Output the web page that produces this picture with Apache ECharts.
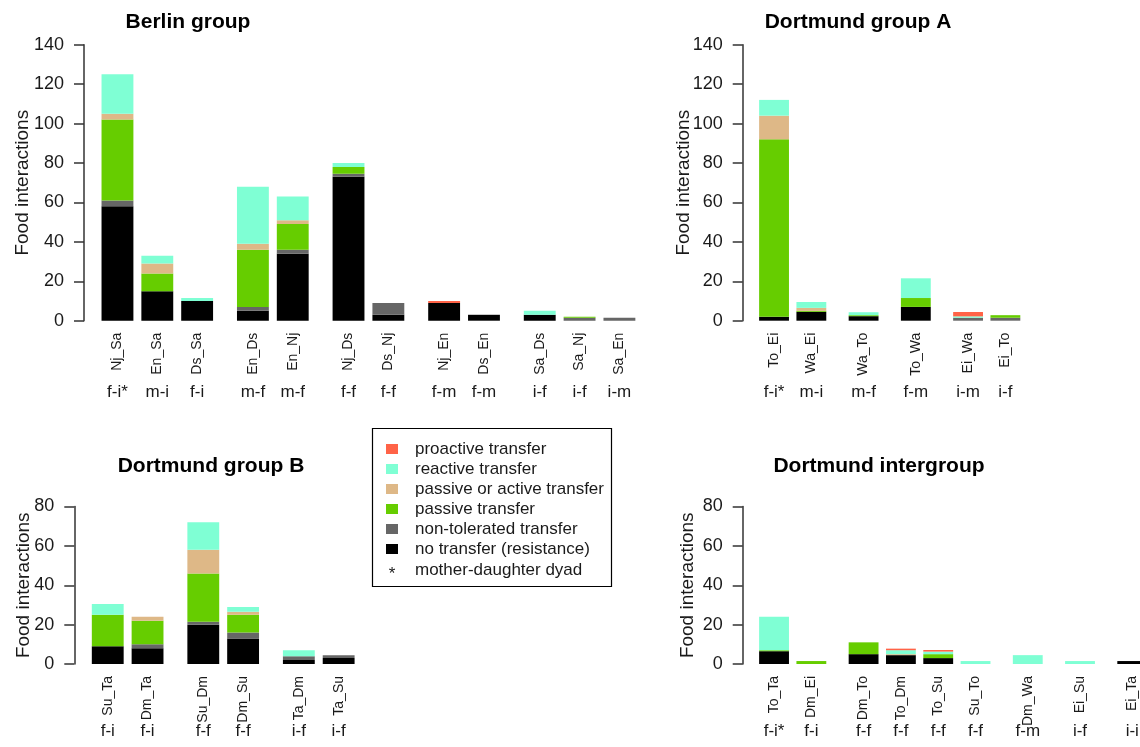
<!DOCTYPE html>
<html>
<head>
<meta charset="utf-8">
<script src="https://cdn.jsdelivr.net/npm/echarts@6/dist/echarts.min.js"></script>
<style>
  html, body { margin: 0; padding: 0; background: #fff; }
  #chart { width: 1140px; height: 747px; }
</style>
</head>
<body>
<div id="chart"></div>
<script>
// stack layers, bottom to top
var layers = ["no transfer (resistance)", "non-tolerated transfer", "passive transfer",
  "passive or active transfer", "reactive transfer", "proactive transfer"];
var layerColors = ["#000000", "#666666", "#66CD00", "#DEB887", "#7FFFD4", "#FF6347"];

// Berlin group
var berlinPairs = ["Nj_Sa", "En_Sa", "Ds_Sa", "En_Ds", "En_Nj", "Nj_Ds", "Ds_Nj", "Nj_En", "Ds_En", "Sa_Ds", "Sa_Nj", "Sa_En"];
var berlinClass = ["f-i*", "m-i", "f-i", "m-f", "m-f", "f-f", "f-f", "f-m", "f-m", "i-f", "i-f", "i-m"];
var berlinGroup = [0, 0, 0, 1, 1, 2, 2, 3, 3, 4, 4, 4];
var berlinNone      = [58, 15, 10, 5, 34, 73, 3, 9, 3, 3, 0, 0];
var berlinNonTol    = [3, 0, 0, 2, 2, 1.5, 6, 0, 0, 0, 1.5, 1.5];
var berlinPassive   = [41, 9, 0, 29, 13, 3.5, 0, 0, 0, 0, 0.5, 0];
var berlinPassAct   = [3, 5, 0, 3, 2, 0, 0, 0, 0, 0, 0, 0];
var berlinReactive  = [20, 4, 1.5, 29, 12, 2, 0, 0, 0, 2, 0, 0];
var berlinProactive = [0, 0, 0, 0, 0, 0, 0, 1, 0, 0, 0, 0];

// Dortmund group A
var dortAPairs = ["To_Ei", "Wa_Ei", "Wa_To", "To_Wa", "Ei_Wa", "Ei_To"];
var dortAClass = ["f-i*", "m-i", "m-f", "f-m", "i-m", "i-f"];
var dortAGroup = [0, 0, 1, 2, 3, 3];
var dortANone      = [2, 4.5, 2.3, 7, 0, 0];
var dortANonTol    = [0, 0, 0, 0, 1.5, 1.5];
var dortAPassive   = [90, 0.5, 0.5, 4.5, 0, 1.3];
var dortAPassAct   = [12, 1.5, 0, 0, 0, 0];
var dortAReactive  = [8, 3, 1.5, 10, 0.7, 0];
var dortAProactive = [0, 0, 0, 0, 2.2, 0];

// Dortmund group B
var dortBPairs = ["Su_Ta", "Dm_Ta", "Su_Dm", "Dm_Su", "Ta_Dm", "Ta_Su"];
var dortBClass = ["f-i", "f-i", "f-f", "f-f", "i-f", "i-f"];
var dortBGroup = [0, 0, 1, 1, 2, 2];
var dortBNone      = [9, 8, 20, 13, 2, 3];
var dortBNonTol    = [0, 2, 1.5, 3, 2, 1.5];
var dortBPassive   = [16, 12, 24.5, 9, 0, 0];
var dortBPassAct   = [0, 2, 12, 1.5, 0, 0];
var dortBReactive  = [5.5, 0, 14, 2.5, 3, 0];
var dortBProactive = [0, 0, 0, 0, 0, 0];

// Dortmund intergroup
var interPairs = ["To_Ta", "Dm_Ei", "Dm_To", "To_Dm", "To_Su", "Su_To", "Dm_Wa", "Ei_Su", "Ei_Ta"];
var interClass = ["f-i*", "f-i", "f-f", "f-f", "f-f", "f-f", "f-m", "i-f", "i-i"];
var interGroup = [0, 0, 1, 1, 1, 1, 2, 3, 4];
var interNone      = [6.5, 0, 5, 4.5, 3, 0, 0, 0, 1.5];
var interNonTol    = [0, 0, 0, 0, 0, 0, 0, 0, 0];
var interPassive   = [0.5, 1.5, 6, 0, 2, 0, 0, 0, 0];
var interPassAct   = [0, 0, 0, 0.5, 0, 0, 0, 0, 0];
var interReactive  = [17, 0, 0, 2, 1.3, 1.5, 4.5, 1.5, 0];
var interProactive = [0, 0, 0, 0.8, 0.8, 0, 0, 0, 0];

var yTicks140 = [0, 20, 40, 60, 80, 100, 120, 140];
var yTicks80 = [0, 20, 40, 60, 80];

var FONT = "'Liberation Sans', Arial, sans-serif";
var INK = "#1a1a1a";
var STEPS = 20; // category slots per bar width

// panel layout (pixels)
var panels = [
  { title: "Berlin group", tx: 188, ty: 22, pairs: berlinPairs, cls: berlinClass, grp: berlinGroup,
    vals: [berlinNone, berlinNonTol, berlinPassive, berlinPassAct, berlinReactive, berlinProactive],
    ticks: yTicks140, left: 84, top: 44.7, height: 276, unit: 31.87, xmax: 18, nameGap: 52, clsMargin: 63 },
  { title: "Dortmund group A", tx: 858, ty: 22, pairs: dortAPairs, cls: dortAClass, grp: dortAGroup,
    vals: [dortANone, dortANonTol, dortAPassive, dortAPassAct, dortAReactive, dortAProactive],
    ticks: yTicks140, left: 742.7, top: 44.7, height: 276, unit: 29.85, xmax: 13, nameGap: 49, clsMargin: 63 },
  { title: "Dortmund group B", tx: 211, ty: 466, pairs: dortBPairs, cls: dortBClass, grp: dortBGroup,
    vals: [dortBNone, dortBNonTol, dortBPassive, dortBPassAct, dortBReactive, dortBProactive],
    ticks: yTicks80, left: 74.3, top: 506.5, height: 157.5, unit: 31.85, xmax: 9.5, nameGap: 41, clsMargin: 59 },
  { title: "Dortmund intergroup", tx: 879, ty: 466, pairs: interPairs, cls: interClass, grp: interGroup,
    vals: [interNone, interNonTol, interPassive, interPassAct, interReactive, interProactive],
    ticks: yTicks80, left: 742.7, top: 506.5, height: 157.5, unit: 29.85, xmax: 14, nameGap: 45, clsMargin: 59 }
];

var grids = [], xAxes = [], yAxes = [], series = [], graphics = [];

panels.forEach(function (p, pi) {
  // bar slots: 1.25 bar widths apart inside a group, an extra 0.5 between groups
  var slot = p.pairs.map(function (n, i) {
    return Math.round((1.05 + i * 1.25 + p.grp[i] * 0.5) * STEPS);
  });
  var nCat = Math.round(p.xmax * STEPS) + 1;
  var cats = [];
  for (var c = 0; c < nCat; c++) cats.push(String(c));
  var at = function (arr) {
    return function (v, idx) {
      var k = slot.indexOf(idx);
      return k < 0 ? "" : arr[k];
    };
  };
  var shown = function (idx) { return slot.indexOf(idx) >= 0; };

  grids.push({ left: p.left, top: p.top, width: p.xmax * p.unit, height: p.height,
    outerBoundsMode: "none", containLabel: false });
  var xBase = { gridIndex: pi, type: "category", data: cats, boundaryGap: false, position: "bottom",
    axisLine: { show: false }, axisTick: { show: false }, splitLine: { show: false } };
  xAxes.push(Object.assign({}, xBase, {
    axisLabel: { interval: shown, formatter: at(p.pairs), rotate: 90, margin: 12,
      fontSize: 14, color: INK, fontFamily: FONT, hideOverlap: false }
  }));
  xAxes.push(Object.assign({}, xBase, {
    axisLabel: { interval: shown, formatter: at(p.cls), rotate: 0, margin: p.clsMargin,
      fontSize: 17, color: INK, fontFamily: FONT, hideOverlap: false }
  }));
  var ymax = p.ticks[p.ticks.length - 1];
  yAxes.push({ gridIndex: pi, type: "value", min: 0, max: ymax, interval: 20,
    name: "Food interactions", nameLocation: "middle", nameGap: p.nameGap, nameMoveOverlap: false,
    nameTextStyle: { fontSize: 19, color: INK, fontFamily: FONT },
    axisLine: { show: true, lineStyle: { color: "#333", width: 1.5 } },
    axisTick: { show: true, length: 10, lineStyle: { color: "#333", width: 1.5 } },
    axisLabel: { fontSize: 18, color: INK, fontFamily: FONT, margin: 20 },
    splitLine: { show: false } });
  layers.forEach(function (name, k) {
    series.push({ type: "bar", name: name, xAxisIndex: pi * 2, yAxisIndex: pi,
      stack: "s" + pi, barWidth: p.unit, clip: false,
      itemStyle: { color: layerColors[k] },
      data: slot.map(function (s, i) { return [s, p.vals[k][i]]; }) });
  });
  graphics.push({ type: "text", x: p.tx, y: p.ty,
    style: { text: p.title, align: "center", verticalAlign: "middle",
      font: "bold 21px " + FONT, fill: "#000" } });
});

// legend frame and the asterisk note
graphics.push({ type: "rect", shape: { x: 372.5, y: 428.5, width: 239, height: 158 },
  style: { fill: "none", stroke: "#000", lineWidth: 1.2 } });
graphics.push({ type: "text", x: 392, y: 574,
  style: { text: "*", align: "center", verticalAlign: "middle", font: "17px " + FONT, fill: INK } });
graphics.push({ type: "text", x: 415, y: 570,
  style: { text: "mother-daughter dyad", align: "left", verticalAlign: "middle", font: "17px " + FONT, fill: INK } });

var chart = echarts.init(document.getElementById("chart"), null, { renderer: "canvas" });
chart.setOption({
  animation: false,
  backgroundColor: "#fff",
  grid: grids,
  xAxis: xAxes,
  yAxis: yAxes,
  legend: {
    orient: "vertical", left: 386, top: 439, padding: 0, itemGap: 0,
    itemWidth: 12, itemHeight: 10, icon: "rect", selectedMode: false,
    data: layers.slice().reverse(),
    textStyle: { fontSize: 17, color: INK, fontFamily: FONT, lineHeight: 20, padding: [0, 0, 0, 12] }
  },
  graphic: graphics,
  series: series
});
</script>
</body>
</html>
